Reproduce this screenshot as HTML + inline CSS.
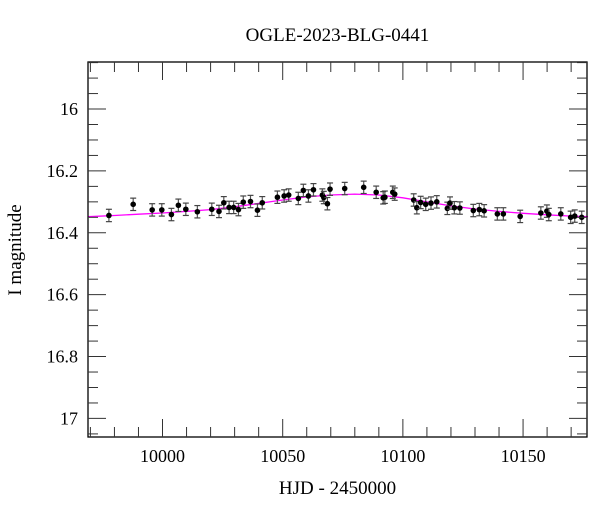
<!DOCTYPE html>
<html><head><meta charset="utf-8"><style>
html,body{margin:0;padding:0;background:#fff}
svg{display:block;font-family:"Liberation Serif","DejaVu Serif",serif}
</style></head><body>
<svg id="chart" width="600" height="512" viewBox="0 0 600 512">
<text x="337.5" y="41" text-anchor="middle" font-size="19">OGLE-2023-BLG-0441</text>
<text x="337.5" y="494" text-anchor="middle" font-size="19">HJD - 2450000</text>
<text transform="translate(21,250) rotate(-90)" text-anchor="middle" font-size="19">I magnitude</text>
<g id="model"></g>
<g id="pts"></g>
<g id="axes"></g>
</svg>
<script>
const days=[9977.7,9987.8,9995.7,9999.7,10003.7,10006.6,10009.7,10014.5,10020.5,10023.5,10025.5,10027.7,10029.6,10031.6,10033.6,10036.6,10039.5,10041.5,10047.8,10050.6,10052.5,10056.5,10058.6,10060.7,10062.8,10066.5,10067.1,10068.6,10069.7,10075.8,10083.7,10088.9,10091.8,10092.5,10095.8,10096.6,10104.5,10105.8,10107.4,10109.5,10111.7,10114.1,10118.5,10119.6,10121.4,10123.7,10129.3,10131.8,10133.8,10139.3,10141.8,10148.8,10157.4,10159.9,10160.7,10165.7,10169.8,10171.5,10174.4];
const mags=[16.344,16.308,16.326,16.326,16.341,16.311,16.324,16.332,16.324,16.331,16.303,16.318,16.318,16.325,16.301,16.299,16.327,16.303,16.285,16.281,16.278,16.289,16.263,16.281,16.261,16.278,16.286,16.306,16.259,16.257,16.253,16.269,16.287,16.285,16.269,16.275,16.294,16.319,16.302,16.308,16.304,16.300,16.321,16.304,16.319,16.320,16.328,16.325,16.329,16.339,16.339,16.347,16.336,16.330,16.341,16.339,16.350,16.346,16.350];
const errs=days.map(()=>0.02);
const modelDays=[9969,9980,9990,10000,10010,10020,10030,10040,10050,10060,10070,10080,10090,10100,10110,10120,10130,10140,10150,10160,10170,10177];
const modelMags=[16.348,16.344,16.340,16.336,16.331,16.325,16.316,16.305,16.294,16.284,16.278,16.275,16.278,16.287,16.300,16.313,16.323,16.331,16.337,16.342,16.346,16.348];
const xTicks=[10000,10050,10100,10150];
const yTicks=[16,16.2,16.4,16.6,16.8,17];
const yTickLabels=["16","16.2","16.4","16.6","16.8","17"];

const L=88,R=587,T=62,B=437;
const X0=9969.0,X1=10176.6,Y0=15.848,Y1=17.06;
const sx=d=>L+(d-X0)/(X1-X0)*(R-L);
const sy=m=>T+(m-Y0)/(Y1-Y0)*(B-T);
const NS="http://www.w3.org/2000/svg";
function mk(tag,attrs,parent){const e=document.createElementNS(NS,tag);for(const k in attrs)e.setAttribute(k,attrs[k]);parent.appendChild(e);return e;}

const model=document.getElementById('model');
const mp=mk('path',{d:modelDays.map((d,i)=>(i?'L':'M')+sx(d).toFixed(1)+','+sy(modelMags[i]).toFixed(1)).join(''),fill:'none',stroke:'#ff00ff','stroke-width':1.3},model);



const pts=document.getElementById('pts');
days.forEach((d,i)=>{
  const x=sx(d),y=sy(mags[i]),y1=sy(mags[i]-errs[i]),y2=sy(mags[i]+errs[i]);
  const g=mk('g',{},pts);
  
  
  mk('line',{x1:x,x2:x,y1:y1,y2:y2,stroke:'#555','stroke-width':1.2},g);
  mk('line',{x1:x-3,x2:x+3,y1:y1,y2:y1,stroke:'#444','stroke-width':1.2},g);
  mk('line',{x1:x-3,x2:x+3,y1:y2,y2:y2,stroke:'#444','stroke-width':1.2},g);
  mk('circle',{cx:x,cy:y,r:2.8,fill:'#000'},g);
});

const ax=document.getElementById('axes');
const fr=mk('rect',{x:L,y:T,width:R-L,height:B-T,fill:'none',stroke:'#000','stroke-width':1.3},ax);


for(let d=9970;d<=10176;d+=10){
  const x=sx(d),maj=d%50===0,len=maj?18:10;
  mk('line',{x1:x,x2:x,y1:B,y2:B-len,stroke:'#333','stroke-width':1},ax);
  mk('line',{x1:x,x2:x,y1:T,y2:T+len,stroke:'#333','stroke-width':1},ax);
}
for(let k=0;k*0.05+15.85<=17.06;k++){
  const m=15.85+k*0.05,y=sy(m),maj=Math.abs(m*5-Math.round(m*5))<1e-6,len=maj?18:10;
  mk('line',{x1:L,x2:L+len,y1:y,y2:y,stroke:'#333','stroke-width':1},ax);
  mk('line',{x1:R,x2:R-len,y1:y,y2:y,stroke:'#333','stroke-width':1},ax);
}
xTicks.forEach(d=>{
  const t=mk('text',{x:sx(d),y:B+25,'text-anchor':'middle','font-size':18},ax);
  t.textContent=String(d);
  
  
});
yTicks.forEach((m,i)=>{
  const t=mk('text',{x:L-10,y:sy(m)+6,'text-anchor':'end','font-size':18},ax);
  t.textContent=yTickLabels[i];
  
  
});
</script>
</body></html>
